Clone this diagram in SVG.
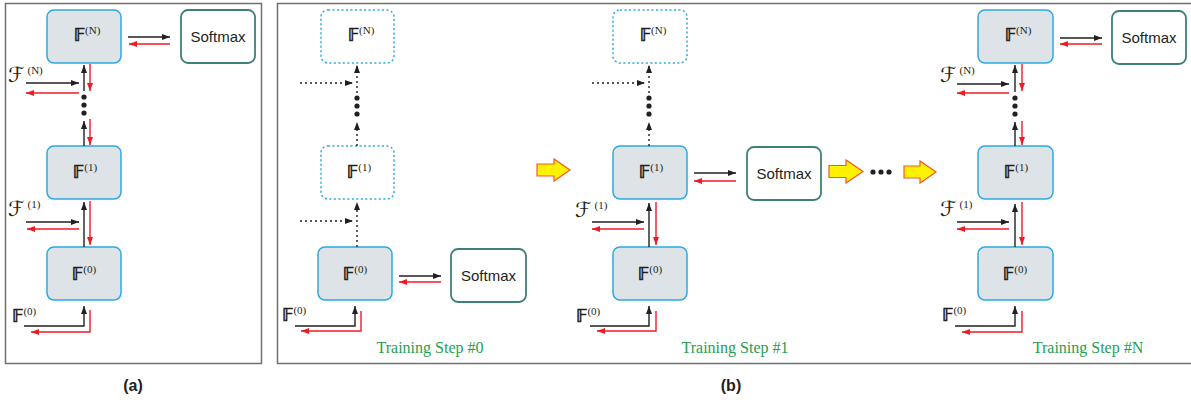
<svg xmlns="http://www.w3.org/2000/svg" width="1191" height="403" viewBox="0 0 1191 403">
<style>
.panel{fill:none;stroke:#707070;stroke-width:1.5}
.blk{fill:#dde3e7;stroke:#2aaae2;stroke-width:1.5}
.dblk{fill:none;stroke:#2aaae2;stroke-width:1.5;stroke-dasharray:2 2.5}
.sm{fill:#fff;stroke:#3e7f78;stroke-width:1.8}
.smt{font-family:"Liberation Sans",Arial,sans-serif;font-size:15px;fill:#231f20;text-anchor:middle}
.bb{font-family:"DejaVu Sans","DejaVu Serif",sans-serif;font-size:17px;fill:#231f20;stroke:#231f20;stroke-width:0.6}
.bc{font-family:"DejaVu Sans","DejaVu Serif",sans-serif;font-size:17px;fill:#231f20;stroke:#231f20;stroke-width:0.6;text-anchor:middle}
.sup{font-family:"Liberation Serif","Times New Roman",serif;font-size:11px;stroke:none}
.cal{font-family:"DejaVu Sans","DejaVu Serif",sans-serif;font-size:21px;fill:#231f20}
.step{font-family:"Liberation Serif","Times New Roman",serif;font-size:16px;fill:#1e9e52;text-anchor:middle}
.plab{font-family:"Liberation Sans",Arial,sans-serif;font-size:16px;font-weight:bold;fill:#231f20;text-anchor:middle}
.k{fill:none;stroke:#231f20;stroke-width:1.4;marker-end:url(#ak)}
.r{fill:none;stroke:#ed1c24;stroke-width:1.4;marker-end:url(#ar)}
.d{fill:none;stroke:#231f20;stroke-width:1.4;stroke-dasharray:2 3;marker-end:url(#ak)}
.dot{fill:#231f20}
.ya{fill:#fff200;stroke:#f15a29;stroke-width:1.2}
</style>
<defs>
<marker id="ak" markerWidth="8" markerHeight="6" refX="8" refY="3" orient="auto" markerUnits="userSpaceOnUse"><path d="M0,0 L8,3 L0,6 z" fill="#231f20"/></marker>
<marker id="ar" markerWidth="8" markerHeight="6" refX="8" refY="3" orient="auto" markerUnits="userSpaceOnUse"><path d="M0,0 L8,3 L0,6 z" fill="#ed1c24"/></marker>
</defs>
<rect x="0" y="0" width="1191" height="403" fill="#fff"/>
<rect class="panel" x="5.5" y="3.5" width="256" height="360"/>
<rect class="panel" x="277.5" y="3.5" width="920" height="360"/>

<!-- Panel (a) -->
<g id="a-IFN"><rect class="blk" x="47" y="10" width="74" height="53" rx="7"/><text class="bc" x="87" y="41">𝔽<tspan class="sup" dy="-7">(N)</tspan></text></g>
<g id="a-softmax"><rect class="sm" x="181" y="10" width="74" height="53" rx="7"/><text class="smt" x="218" y="42">Softmax</text></g>
<g id="a-IF1"><rect class="blk" x="47" y="146" width="74" height="53" rx="7"/><text class="bc" x="85" y="178">𝔽<tspan class="sup" dy="-7">(1)</tspan></text></g>
<g id="a-IF0"><rect class="blk" x="47" y="247" width="74" height="53" rx="7"/><text class="bc" x="84" y="280">𝔽<tspan class="sup" dy="-7">(0)</tspan></text></g>
<g id="a-labels">
<text class="cal" x="8" y="82">ℱ<tspan class="sup" dy="-8" dx="3">(N)</tspan></text>
<text class="cal" x="8" y="216">ℱ<tspan class="sup" dy="-8" dx="3">(1)</tspan></text>
<text class="bb" x="12" y="322">𝔽<tspan class="sup" dy="-7">(0)</tspan></text>
</g>

<!-- Panel (b) step 0 -->
<g id="b0-IFN"><rect class="dblk" x="321" y="10" width="73" height="53" rx="7"/><text class="bc" x="361" y="41">𝔽<tspan class="sup" dy="-7">(N)</tspan></text></g>
<g id="b0-IF1"><rect class="dblk" x="321" y="146" width="73" height="53" rx="7"/><text class="bc" x="359" y="178">𝔽<tspan class="sup" dy="-7">(1)</tspan></text></g>
<g id="b0-IF0"><rect class="blk" x="318" y="247" width="74" height="53" rx="7"/><text class="bc" x="355" y="280">𝔽<tspan class="sup" dy="-7">(0)</tspan></text></g>
<g id="b0-softmax"><rect class="sm" x="451" y="249" width="75" height="53" rx="7"/><text class="smt" x="488.5" y="281">Softmax</text></g>
<g id="b0-labels">
<text class="bb" x="282" y="321">𝔽<tspan class="sup" dy="-7">(0)</tspan></text>
<text class="step" x="430" y="353">Training Step #0</text>
</g>

<!-- Panel (b) step 1 -->
<g id="b1-IFN"><rect class="dblk" x="613" y="10" width="74" height="53" rx="7"/><text class="bc" x="653" y="41">𝔽<tspan class="sup" dy="-7">(N)</tspan></text></g>
<g id="b1-IF1"><rect class="blk" x="613" y="146" width="74" height="53" rx="7"/><text class="bc" x="651" y="178">𝔽<tspan class="sup" dy="-7">(1)</tspan></text></g>
<g id="b1-IF0"><rect class="blk" x="613" y="247" width="74" height="53" rx="7"/><text class="bc" x="650" y="280">𝔽<tspan class="sup" dy="-7">(0)</tspan></text></g>
<g id="b1-softmax"><rect class="sm" x="747" y="147" width="74" height="53" rx="7"/><text class="smt" x="784" y="179">Softmax</text></g>
<g id="b1-labels">
<text class="cal" x="575" y="217">ℱ<tspan class="sup" dy="-8" dx="3">(1)</tspan></text>
<text class="bb" x="576" y="322">𝔽<tspan class="sup" dy="-7">(0)</tspan></text>
<text class="step" x="735" y="353">Training Step #1</text>
</g>

<!-- Panel (b) step N -->
<g id="bN-IFN"><rect class="blk" x="978" y="10" width="75" height="53" rx="7"/><text class="bc" x="1018" y="41">𝔽<tspan class="sup" dy="-7">(N)</tspan></text></g>
<g id="bN-softmax"><rect class="sm" x="1112" y="11" width="74" height="53" rx="7"/><text class="smt" x="1149" y="43">Softmax</text></g>
<g id="bN-IF1"><rect class="blk" x="978" y="146" width="75" height="53" rx="7"/><text class="bc" x="1016" y="178">𝔽<tspan class="sup" dy="-7">(1)</tspan></text></g>
<g id="bN-IF0"><rect class="blk" x="978" y="247" width="75" height="53" rx="7"/><text class="bc" x="1015" y="280">𝔽<tspan class="sup" dy="-7">(0)</tspan></text></g>
<g id="bN-labels">
<text class="cal" x="940" y="82">ℱ<tspan class="sup" dy="-8" dx="3">(N)</tspan></text>
<text class="cal" x="940" y="216">ℱ<tspan class="sup" dy="-8" dx="3">(1)</tspan></text>
<text class="bb" x="942" y="321">𝔽<tspan class="sup" dy="-7">(0)</tspan></text>
<text class="step" x="1088" y="353">Training Step #N</text>
</g>

<g id="transitions">
<path class="ya" d="M537,164 H554 V159 L570,170 L554,181 V176 H537 Z"/>
<path class="ya" d="M829,165.5 H846 V160 L863,171.5 L846,183 V177.5 H829 Z"/>
<circle class="dot" cx="873" cy="172" r="2.6"/><circle class="dot" cx="881" cy="172" r="2.6"/><circle class="dot" cx="889" cy="172" r="2.6"/>
<path class="ya" d="M904,166 H920 V161 L936,172 L920,183 V178 H904 Z"/>
</g>

<g id="connectors">
<!-- panel a -->
<path class="k" d="M128,37 H170"/><path class="r" d="M170,44 H129"/>
<path class="k" d="M84,91 V65"/><path class="r" d="M90,64 V91"/>
<path class="k" d="M26,83 H79"/><path class="r" d="M79,93 H26"/>
<circle class="dot" cx="84" cy="97" r="2.6"/><circle class="dot" cx="84" cy="105" r="2.6"/><circle class="dot" cx="84" cy="113" r="2.6"/>
<path class="k" d="M84,146 V121"/><path class="r" d="M90,119 V145"/>
<path class="k" d="M26,222 H79"/><path class="r" d="M79,229 H27"/>
<path class="k" d="M84,247 V202"/><path class="r" d="M90,201 V245"/>
<path class="k" d="M24,326 H84 V306"/><path class="r" d="M90,310 V332 H31"/>
<!-- step 0 -->
<path class="k" d="M399,276 H441"/><path class="r" d="M441,282 H399"/>
<path class="d" d="M357,93 V65"/><path class="d" d="M300,83 H353"/>
<circle class="dot" cx="357" cy="98" r="2.6"/><circle class="dot" cx="357" cy="106" r="2.6"/><circle class="dot" cx="357" cy="114" r="2.6"/>
<path class="d" d="M357,146 V122"/>
<path class="d" d="M357,247 V202"/><path class="d" d="M300,221 H353"/>
<path class="k" d="M295,326 H355 V306"/><path class="r" d="M361,311 V331 H301"/>
<!-- step 1 -->
<path class="k" d="M694,173 H736"/><path class="r" d="M736,181 H694"/>
<path class="d" d="M649,93 V65"/><path class="d" d="M592,83 H645"/>
<circle class="dot" cx="649" cy="98" r="2.6"/><circle class="dot" cx="649" cy="106" r="2.6"/><circle class="dot" cx="649" cy="114" r="2.6"/>
<path class="d" d="M649,146 V122"/>
<path class="k" d="M592,222 H644"/><path class="r" d="M644,229 H592"/>
<path class="k" d="M649,247 V203"/><path class="r" d="M656,202 V245"/>
<path class="k" d="M590,326 H649 V306"/><path class="r" d="M656,311 V331 H597"/>
<!-- step N -->
<path class="k" d="M1060,38 H1102"/><path class="r" d="M1102,44 H1060"/>
<path class="k" d="M1015,92 V65"/><path class="r" d="M1022,64 V91"/>
<path class="k" d="M957,84 H1009"/><path class="r" d="M1009,93 H957"/>
<circle class="dot" cx="1015" cy="98" r="2.6"/><circle class="dot" cx="1015" cy="106" r="2.6"/><circle class="dot" cx="1015" cy="114" r="2.6"/>
<path class="k" d="M1015,146 V122"/><path class="r" d="M1022,121 V145"/>
<path class="k" d="M957,222 H1009"/><path class="r" d="M1009,229 H957"/>
<path class="k" d="M1015,247 V204"/><path class="r" d="M1022,202 V245"/>
<path class="k" d="M955,326 H1015 V306"/><path class="r" d="M1022,311 V332 H962"/>
</g>

<text class="plab" x="133" y="391">(a)</text>
<text class="plab" x="731" y="391">(b)</text>
</svg>
